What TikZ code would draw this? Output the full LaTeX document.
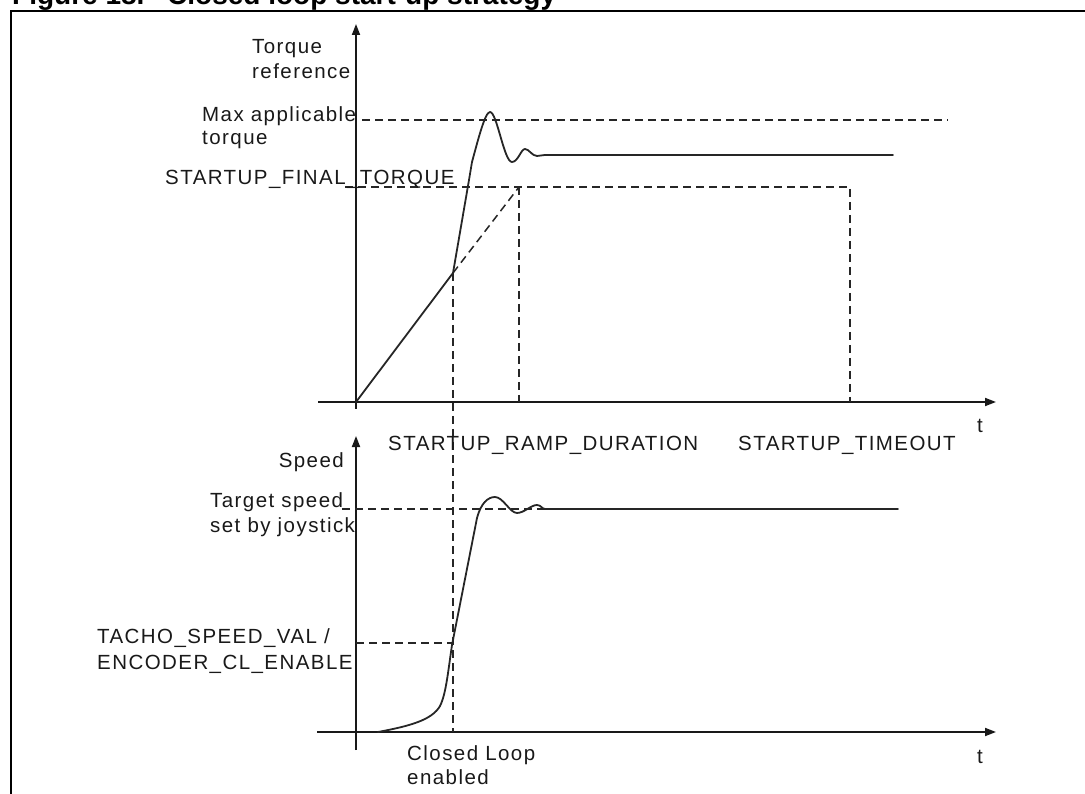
\documentclass[tikz,border=0pt]{standalone}
\usepackage{fontspec}
\setmainfont{Liberation Sans}
\newfontfamily\lblfont[LetterSpace=7]{Liberation Sans}
\usetikzlibrary{arrows.meta}
\begin{document}
\begin{tikzpicture}[x=1pt,y=-1pt,
  axis/.style={line width=1.8pt,draw=black!90,-{Triangle[length=11pt,width=8pt]}},
  guide/.style={line width=1.5pt,draw=black!85,dash pattern=on 8pt off 5pt},
  sig/.style={line width=1.8pt,draw=black!85,line join=round,line cap=round},
  lbl/.style={font=\lblfont\fontsize{20.5}{25}\selectfont,text=black!90,inner sep=0pt},
  ttl/.style={font=\bfseries\fontsize{28}{30}\selectfont,inner sep=0pt,anchor=base west},
]
\useasboundingbox (0,0) rectangle (1085,794);
\clip (0,0) rectangle (1085,794);
% frame
\coordinate (FrBL) at (11,800);
\coordinate (FrTL) at (11,11);
\coordinate (FrTR) at (1090,11);
\draw[line width=2.7pt] (FrBL) -- (FrTL) -- (FrTR);
\node[ttl] (title1) at (12,5) {Figure 18.};
\node[ttl] (title2) at (167,5) {Closed loop start-up strategy};
% key points
\coordinate (O1) at (356,402);
\coordinate (A1b) at (356,409);
\coordinate (A1t) at (356,24);
\coordinate (T1l) at (318,402);
\coordinate (T1r) at (996,402);
\coordinate (O2) at (356,732);
\coordinate (A2b) at (356,750);
\coordinate (A2t) at (356,436);
\coordinate (T2l) at (317,732);
\coordinate (T2r) at (996,732);
\coordinate (CL) at (453,273);
\coordinate (CLb) at (453,732);
\coordinate (RE) at (519,187);
\coordinate (REb) at (519,402);
\coordinate (TOc) at (850,187);
\coordinate (TOb) at (850,402);
\coordinate (FTl) at (345,187);
\coordinate (MTl) at (362,120);
\coordinate (MTr) at (948,120);
\coordinate (TQs) at (545,155);
\coordinate (TQe) at (893,155);
\coordinate (TSl) at (342,509);
\coordinate (SPs) at (545,509);
\coordinate (SPe) at (898,509);
\coordinate (TCl) at (356,643);
\coordinate (TCr) at (453,643);
\coordinate (SP0) at (378,732);
% axes
\draw[axis] (A1b) -- (A1t);
\draw[axis] (T1l) -- (T1r);
\draw[axis] (A2b) -- (A2t);
\draw[axis] (T2l) -- (T2r);
% guides
\draw[guide] (MTl) -- (MTr);
\draw[guide] (FTl) -- (TOc) -- (TOb);
\draw[guide] (RE) -- (REb);
\draw[guide] (CL) -- (RE);
\draw[guide] (CL) -- (CLb);
\draw[guide] (TSl) -- (SPs);
\draw[guide] (TCl) -- (TCr);
% torque
\draw[sig] (O1) -- (CL) -- (469,180) -- (472,162)
  .. controls (478,140) and (485,112) .. (490,112)
  .. controls (497,112) and (504,162) .. (512,162)
  .. controls (518,162) and (521,149) .. (525,149)
  .. controls (529,149) and (532,156) .. (537,156)
  -- (TQs) -- (TQe);
% speed
\draw[sig] (SP0) .. controls (410,726) and (432,720) .. (440,706)
  .. controls (446,694) and (448,672) .. (452,645)
  -- (477,518)
  .. controls (481,503) and (488,497) .. (495,497)
  .. controls (503,497) and (510,513) .. (517,513)
  .. controls (524,513) and (531,505) .. (537,505)
  .. controls (541,505) and (542,509) .. (SPs) -- (SPe);
% labels
\node[lbl,anchor=base west] (l1) at (252,54) {Torque};
\node[lbl,anchor=base west] (l2) at (252,79) {reference};
\node[lbl,anchor=base west] (l3) at (202,122) {Max applicable};
\node[lbl,anchor=base west] (l4) at (202,145) {torque};
\node[lbl,anchor=base west] (l5) at (165,185) {STARTUP\_FINAL\_TORQUE};
\node[lbl,anchor=base west] (l6) at (388,450) {STARTUP\_RAMP\_DURATION};
\node[lbl,anchor=base west] (l7) at (738,450) {STARTUP\_TIMEOUT};
\node[lbl,anchor=base west] (t1) at (977,432) {t};
\node[lbl,anchor=base east] (l8) at (344,467) {Speed};
\node[lbl,anchor=base west] (l9) at (210,507) {Target speed};
\node[lbl,anchor=base west] (l10) at (210,532) {set by joystick};
\node[lbl,anchor=base west] (l11) at (97,643) {TACHO\_SPEED\_VAL /};
\node[lbl,anchor=base west] (l12) at (97,669) {ENCODER\_CL\_ENABLE};
\node[lbl,anchor=base west] (t2) at (977,763) {t};
\node[lbl,anchor=base west] (l13) at (407,760) {Closed Loop};
\node[lbl,anchor=base west] (l14) at (407,784) {enabled};
\end{tikzpicture}
\end{document}
